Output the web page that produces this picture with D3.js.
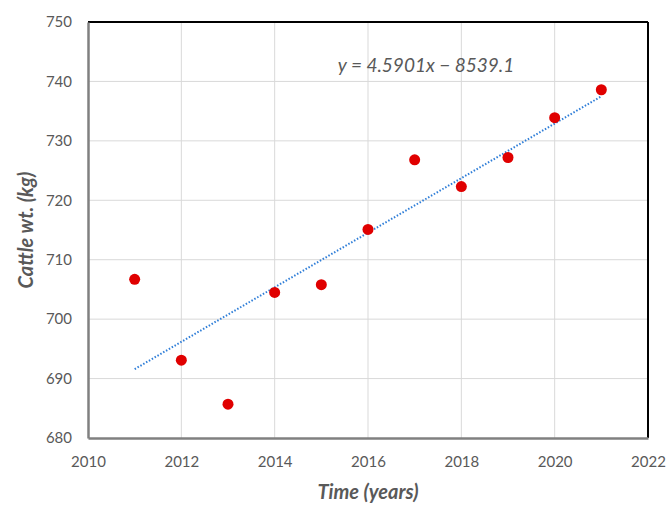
<!DOCTYPE html>
<html>
<head>
<meta charset="utf-8">
<script src="https://cdn.jsdelivr.net/npm/d3@7"></script>
<style>
  body { margin: 0; background: #fff; }
  text { font-family: Lato, "Open Sans", sans-serif; fill: #595959; }
</style>
</head>
<body>
<svg id="chart" width="666" height="507"></svg>
<script>
// data
const years = [2011, 2012, 2013, 2014, 2015, 2016, 2017, 2018, 2019, 2020, 2021];
const weights = [706.7, 693.1, 685.7, 704.5, 705.8, 715.1, 726.8, 722.3, 727.2, 733.9, 738.6];
const xTicks = [2010, 2012, 2014, 2016, 2018, 2020, 2022];
const yTicks = [680, 690, 700, 710, 720, 730, 740, 750];
// trendline as printed on the chart
const slope = 4.5901;
const intercept = -8539.1;

const margin = { top: 22, right: 18, bottom: 69, left: 88 };
const width = 666, height = 507;

const svg = d3.select("#chart");

const x = d3.scaleLinear().domain([2010, 2022]).range([margin.left, width - margin.right]);
const y = d3.scaleLinear().domain([680, 750]).range([height - margin.bottom, margin.top]);

// grid lines
svg.append("g")
  .selectAll("line")
  .data(xTicks.slice(1, -1))
  .enter()
  .append("line")
  .attr("x1", (d) => x(d)).attr("x2", (d) => x(d))
  .attr("y1", y(680)).attr("y2", y(750))
  .attr("stroke", "#d9d9d9").attr("stroke-width", 1);

svg.append("g")
  .selectAll("line")
  .data(yTicks.slice(1, -1))
  .enter()
  .append("line")
  .attr("x1", x(2010)).attr("x2", x(2022))
  .attr("y1", (d) => y(d)).attr("y2", (d) => y(d))
  .attr("stroke", "#d9d9d9").attr("stroke-width", 1);

// frame: top/right black, left/bottom gray
svg.append("line")
  .attr("x1", x(2010)).attr("x2", x(2022)).attr("y1", y(750)).attr("y2", y(750))
  .attr("stroke", "#000").attr("stroke-width", 2);
svg.append("line")
  .attr("x1", x(2022)).attr("x2", x(2022)).attr("y1", y(750)).attr("y2", y(680))
  .attr("stroke", "#000").attr("stroke-width", 2);

// axes
const xAxis = svg.append("g")
  .attr("transform", `translate(0,${y(680)})`)
  .call(d3.axisBottom(x).tickValues(xTicks).tickFormat(d3.format("d")).tickSize(0).tickPadding(18));
xAxis.select(".domain").attr("stroke", "#808080").attr("stroke-width", 2.5);
xAxis.selectAll("text").style("font-size", "15px").attr("fill", "#595959");

const yAxis = svg.append("g")
  .attr("transform", `translate(${x(2010)},0)`)
  .call(d3.axisLeft(y).tickValues(yTicks).tickSize(0).tickPadding(16));
yAxis.select(".domain").attr("stroke", "#808080").attr("stroke-width", 2.5);
yAxis.selectAll("text").style("font-size", "15px").attr("fill", "#595959");

// trendline
const first = years[0], last = years[years.length - 1];
svg.append("line")
  .attr("x1", x(first)).attr("y1", y(slope * first + intercept))
  .attr("x2", x(last)).attr("y2", y(slope * last + intercept))
  .attr("stroke", "#2f7ed8")
  .attr("stroke-width", 2)
  .attr("stroke-dasharray", "1.5,1.8");

// points
svg.selectAll(".datapoint")
  .data(years)
  .enter()
  .append("circle")
  .attr("class", "datapoint")
  .attr("cx", (d) => x(d))
  .attr("cy", (d, i) => y(weights[i]))
  .attr("r", 5.5)
  .attr("fill", "#e00000");

// equation
svg.append("text")
  .attr("x", 426).attr("y", 72)
  .attr("text-anchor", "middle")
  .style("font-size", "19px")
  .style("font-style", "italic")
  .text("y = 4.5901x \u2212 8539.1");

// axis titles
svg.append("text")
  .attr("x", (x(2010) + x(2022)) / 2).attr("y", 499)
  .attr("text-anchor", "middle")
  .style("font-size", "20px").style("font-weight", "bold").style("font-style", "italic")
  .text("Time (years)");

svg.append("text")
  .attr("transform", `translate(33,${(y(680) + y(750)) / 2}) rotate(-90)`)
  .attr("text-anchor", "middle")
  .style("font-size", "20px").style("font-weight", "bold").style("font-style", "italic")
  .text("Cattle wt. (kg)");
</script>
</body>
</html>
